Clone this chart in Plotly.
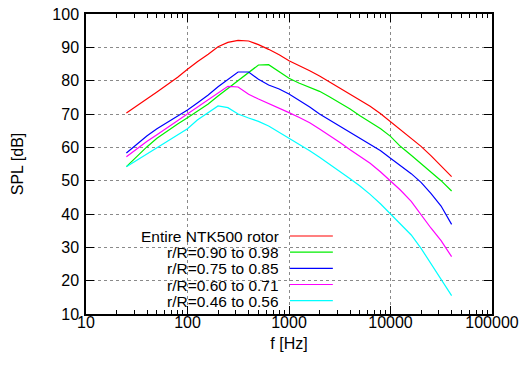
import plotly.graph_objects as go

freqs = [25, 31.5, 40, 50, 63, 80, 100, 125, 160, 200, 250, 315, 400, 500, 630, 800,
         1000, 1250, 1600, 2000, 2500, 3150, 4000, 5000, 6300, 8000, 10000, 12500,
         16000, 20000, 25000, 31500, 40000]

spl_entire = [70.3, 72.5, 74.6, 76.6, 78.7, 81.0, 83.4, 85.7, 87.9, 90.2, 91.5, 92.1, 91.9,
              90.8, 89.4, 87.8, 86.0, 84.6, 83.0, 81.4, 79.6, 77.8, 76.0, 74.2, 72.3, 70.1,
              67.7, 65.4, 62.9, 60.3, 57.5, 54.5, 51.2]
spl_090_098 = [54.2, 57.3, 60.2, 62.7, 64.9, 67.0, 68.9, 70.8, 73.0, 75.4, 77.7, 80.0, 82.3,
               84.7, 84.8, 82.7, 80.7, 79.3, 78.0, 76.8, 75.2, 73.5, 71.5, 69.5, 67.7, 65.6,
               63.3, 60.3, 57.6, 55.0, 52.5, 50.0, 46.9]
spl_075_085 = [58.3, 61.0, 63.5, 65.6, 67.4, 69.3, 71.2, 73.3, 75.7, 78.2, 80.5, 82.6, 82.6,
               80.4, 78.7, 77.5, 76.0, 74.2, 72.1, 70.0, 68.2, 66.4, 64.6, 62.7, 60.9, 59.0,
               56.7, 54.5, 52.1, 49.5, 46.2, 42.4, 36.9]
spl_060_071 = [57.2, 59.5, 61.8, 63.8, 65.9, 68.0, 70.1, 72.2, 74.3, 76.2, 78.3, 78.1, 75.9,
               74.5, 73.2, 71.7, 70.4, 69.0, 67.4, 65.5, 63.6, 61.5, 59.3, 57.3, 55.2, 52.6,
               50.0, 47.2, 43.8, 39.7, 35.8, 32.0, 27.2]
spl_046_056 = [54.2, 56.1, 58.0, 60.0, 61.8, 63.7, 65.6, 68.2, 70.5, 72.4, 71.9, 70.0, 68.8,
               67.8, 66.4, 64.5, 62.7, 61.0, 59.0, 57.0, 55.0, 52.8, 50.6, 48.4, 45.9, 43.0,
               40.0, 37.0, 33.7, 29.7, 25.2, 20.6, 15.5]

labels = ["Entire NTK500 rotor", "r/R=0.90 to 0.98", "r/R=0.75 to 0.85",
          "r/R=0.60 to 0.71", "r/R=0.46 to 0.56"]
series = [spl_entire, spl_090_098, spl_075_085, spl_060_071, spl_046_056]
colors = ["#ff0000", "#00ee00", "#0000ff", "#ff00ff", "#00ffff"]

x_tickvals = [10, 100, 1000, 10000, 100000]
x_ticktext = ["10", "100", "1000", "10000", "100000"]
y_tickvals = [10, 20, 30, 40, 50, 60, 70, 80, 90, 100]

FONT = "Liberation Sans, Arial, sans-serif"

fig = go.Figure()
for lab, ys, col in zip(labels, series, colors):
    fig.add_trace(go.Scatter(x=freqs, y=ys, mode="lines", name=lab,
                             line=dict(color=col, width=1.2), showlegend=False))

# gnuplot-style key: white box, right-aligned text, then line sample
shapes = [dict(type="rect", xref="paper", yref="paper", x0=0.022, x1=0.6305,
               y0=0.0, y1=0.29, fillcolor="white", line=dict(width=0), layer="between")]
annotations = []
row_y0 = 0.26
row_dy = 0.0539
for i, (lab, col) in enumerate(zip(labels, colors)):
    yy = row_y0 - i * row_dy
    annotations.append(dict(xref="paper", yref="paper", x=0.478, y=yy, text=lab,
                            showarrow=False, xanchor="right", yanchor="middle",
                            height=16, borderpad=0,
                            font=dict(family=FONT, size=15.5, color="black")))
    shapes.append(dict(type="line", xref="paper", yref="paper", x0=0.5025, x1=0.608,
                       y0=yy, y1=yy, line=dict(color=col, width=1.2), layer="above"))

fig.update_layout(
    width=521, height=367,
    margin=dict(l=86, r=29, t=14, b=53),
    paper_bgcolor="white", plot_bgcolor="white",
    font=dict(family=FONT, size=16, color="black"),
    shapes=shapes, annotations=annotations,
    showlegend=False,
)
fig.update_xaxes(
    type="log", range=[1, 5], automargin=False,
    tickvals=x_tickvals, ticktext=x_ticktext,
    ticks="inside", ticklen=8, tickcolor="black", tickwidth=1,
    ticklabelstandoff=-7, ticklabeloverflow="allow",
    showline=True, linecolor="black", linewidth=1.5, mirror="allticks",
    showgrid=True, gridcolor="#8a8a8a", griddash="dot", gridwidth=1,
    zeroline=False,
    minor=dict(ticks="inside", ticklen=4, tickcolor="black", dtick="D1", showgrid=False),
    title=dict(text="f [Hz]", font=dict(family=FONT, size=16), standoff=8),
    tickfont=dict(family=FONT, size=16),
)
fig.update_yaxes(
    range=[10, 100], tickvals=y_tickvals, automargin=False,
    ticks="inside", ticklen=8, tickcolor="black", tickwidth=1,
    ticklabelstandoff=2, ticklabeloverflow="allow",
    showline=True, linecolor="black", linewidth=1.5, mirror="allticks",
    showgrid=True, gridcolor="#8a8a8a", griddash="dot", gridwidth=1,
    zeroline=False,
    title=dict(text="SPL [dB]", font=dict(family=FONT, size=16), standoff=25),
    tickfont=dict(family=FONT, size=16),
)

# remove the browser's default 8px body margin so the figure sits at the window origin
fig.write_html("out.html", config={"displayModeBar": False},
               post_script="document.body.style.margin='0px';")
